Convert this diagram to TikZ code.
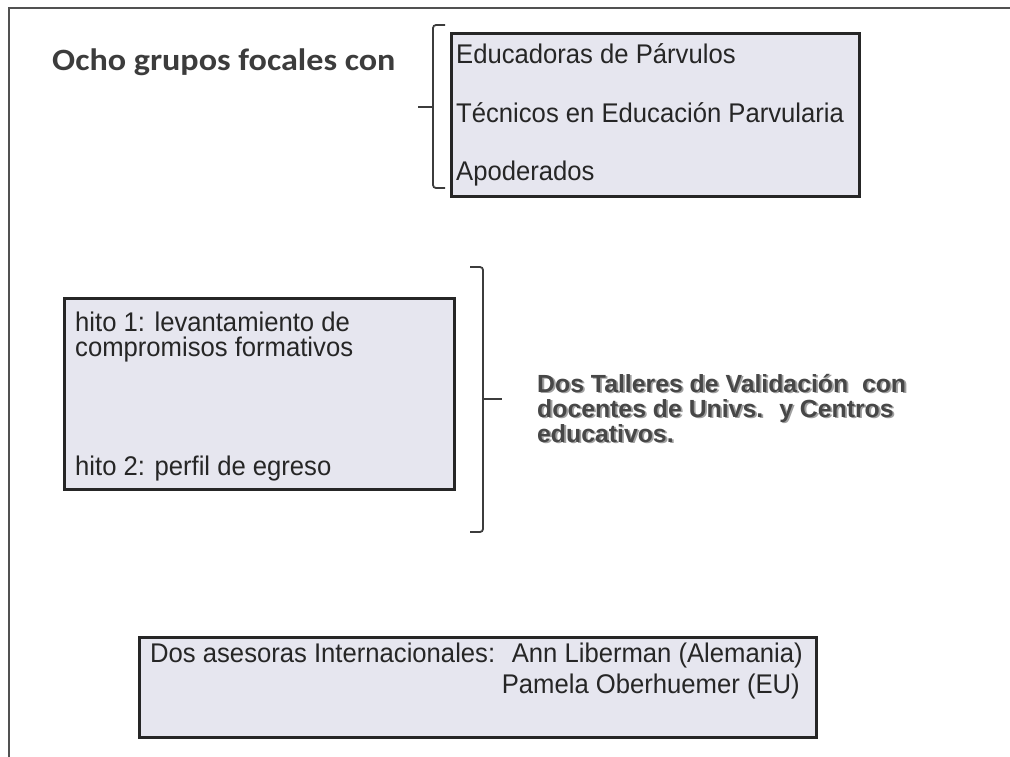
\documentclass[tikz,border=0pt]{standalone}
\usepackage{fontspec}
\setmainfont{Liberation Sans}
\newfontfamily\boxfont[FakeStretch=0.95]{Liberation Sans}
\newfontfamily\titlefont[FakeStretch=1.1]{Carlito}
\definecolor{boxfill}{HTML}{E6E6EF}
\definecolor{ink}{HTML}{262626}
\definecolor{shade}{HTML}{A0A0A0}
\newcommand\shadowtext[1]{\rlap{\kern1.8pt\raisebox{-1.8pt}[0pt][0pt]{\textcolor{shade}{#1}}}#1}
\begin{document}
\begin{tikzpicture}[x=1pt,y=-1pt,
  panel/.style={draw=ink, line width=2.6pt, fill=boxfill, inner sep=0pt, anchor=north west},
  boxtxt/.style={inner sep=0pt, anchor=base west, text=ink, font=\boxfont\fontsize{27}{27}\selectfont},
  titletxt/.style={inner sep=0pt, anchor=base west, text=ink!90, font=\titlefont\bfseries\fontsize{31}{31}\selectfont},
  talltxt/.style={inner sep=0pt, anchor=base west, text=ink!85, font=\bfseries\fontsize{24.8}{24.8}\selectfont},
  bracketline/.style={draw=ink!90, line width=1.8pt, rounded corners=3pt},
  framelines/.style={draw=ink!80, line width=1.2pt}]
\useasboundingbox (0,0) rectangle (1010,756);
\coordinate (frameA) at (9,800);
\coordinate (frameB) at (9,8);
\coordinate (frameC) at (1060,8);
\begin{scope}
  \clip (0,0) rectangle (1010,756);
  \draw[framelines] (frameA) -- (frameB) -- (frameC);
\end{scope}

% title
\node[titletxt] (title) at (52,70) {Ocho grupos focales con};

% top box and bracket
\node[panel, minimum width=408pt, minimum height=163pt] (grupos) at (450,32) {};
\node[boxtxt] (g1) at (456,63) {Educadoras de Párvulos};
\node[boxtxt] (g2) at (456,122) {Técnicos en Educación Parvularia};
\node[boxtxt] (g3) at (456,180) {Apoderados};
\coordinate (b1top) at (445,25);
\coordinate (b1bot) at (445,188);
\coordinate (b1tip) at (418,107);
\draw[bracketline] (b1top) -- (433,25) -- (433,188) -- (b1bot);
\draw[bracketline] (433,107) -- (b1tip);

% middle box and bracket
\node[panel, minimum width=390pt, minimum height=191pt] (hitos) at (63,297) {};
\node[boxtxt] (h1) at (75,331) {hito 1: levantamiento de};
\node[boxtxt] (h2) at (75,356) {compromisos formativos};
\node[boxtxt] (h3) at (75,475) {hito 2: perfil de egreso};
\coordinate (b2top) at (470,267);
\coordinate (b2bot) at (470,532);
\coordinate (b2tip) at (502,399);
\draw[bracketline] (b2top) -- (483,267) -- (483,532) -- (b2bot);
\draw[bracketline] (483,399) -- (b2tip);

% talleres text with shadow
\node[talltxt] (t1) at (537,392) {\shadowtext{Dos Talleres de Validación~ con}};
\node[talltxt] (t2) at (537,417) {\shadowtext{docentes de Univs.~ y Centros}};
\node[talltxt] (t3) at (537,442) {\shadowtext{educativos.}};

% bottom box
\node[panel, minimum width=677pt, minimum height=100pt] (asesoras) at (138,636) {};
\node[boxtxt] (a1) at (150,662) {Dos asesoras Internacionales:~ Ann Liberman (Alemania)};
\node[boxtxt, anchor=base east] (a2) at (800,693) {Pamela Oberhuemer (EU)};
\end{tikzpicture}
\end{document}
